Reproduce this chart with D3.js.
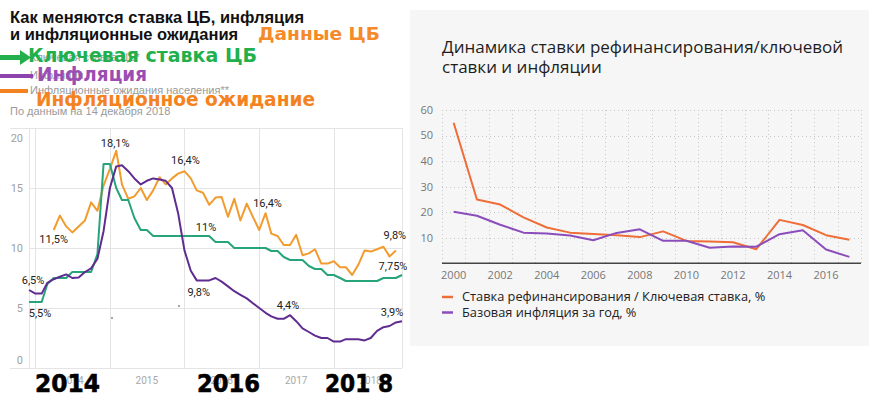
<!DOCTYPE html>
<html>
<head>
<meta charset="utf-8">
<script src="https://cdn.jsdelivr.net/npm/d3@7"></script>
<style>
  body { margin: 0; background: #fff; }
  svg { display: block; }
</style>
</head>
<body>
<script>
// ---- left chart: monthly values, Dec 2013 .. Dec 2018
const months = d3.timeMonth.range(new Date(2013, 11, 1), new Date(2019, 0, 1));
const keyRate = [
  5.5, 5.5, 5.5, 7.0, 7.5, 7.5, 7.5, 8.0, 8.0, 8.0, 8.0, 9.5,
  17, 17, 15, 14, 14, 12.5, 11.5, 11.5, 11, 11, 11, 11,
  11, 11, 11, 11, 11, 11, 10.5, 10.5, 10.5, 10, 10, 10,
  10, 10, 10, 9.75, 9.75, 9.25, 9.0, 9.0, 9.0, 8.5, 8.25, 8.25,
  7.75, 7.75, 7.5, 7.25, 7.25, 7.25, 7.25, 7.25, 7.25, 7.5, 7.5, 7.5,
  7.75,
];
const inflation = [
  6.5, 6.2, 6.2, 7.1, 7.4, 7.6, 7.8, 7.5, 7.55, 8.0, 8.3, 9.1,
  11.4, 15.0, 16.8, 16.9, 16.4, 15.8, 15.3, 15.6, 15.8, 15.7, 15.6, 15.0,
  12.9, 9.8, 8.1, 7.3, 7.3, 7.3, 7.5, 7.2, 6.8, 6.4, 6.1, 5.8,
  5.4, 5.0, 4.6, 4.3, 4.1, 4.1, 4.4, 3.9, 3.3, 3.0, 2.7, 2.5,
  2.5, 2.2, 2.2, 2.4, 2.4, 2.4, 2.3, 2.5, 3.1, 3.4, 3.5, 3.8,
  3.9,
];
const expectations = [
  null, null, null, null, 11.5, 12.7, 11.8, 11.3, 11.8, 12.3, 13.8, 13.1,
  15.2, 16.6, 18.1, 15.3, 14.1, 14.3, 15.0, 14.0, 14.8, 15.9, 15.3, 15.8,
  16.2, 16.4, 15.8, 14.8, 14.6, 13.6, 14.2, 14.25, 12.6, 14.1, 12.3, 13.7,
  12.6, 11.5, 12.9, 11.2, 11.0, 10.25, 10.25, 11.1, 9.4, 9.55, 9.9, 8.7,
  8.7, 8.9, 8.4, 8.4, 7.75, 8.6, 9.8, 9.7, 9.9, 10.1, 9.3, 9.8,
  null,
];
const leftYears = [2014, 2015, 2016, 2017, 2018];
const leftTicks = [0, 5, 10, 15, 20];
// label, series, month index
const leftNotes = [
  ['18,1%', 'exp', 14], ['16,4%', 'exp', 25], ['11,5%', 'exp', 4], ['11%', 'key', 28],
  ['6,5%', 'inf', 0], ['5,5%', 'key', 0], ['9,8%', 'inf', 27], ['16,4%', 'exp', 38],
  ['4,4%', 'inf', 42], ['9,8%', 'exp', 59], ['7,75%', 'key', 60], ['3,9%', 'inf', 60],
];

// ---- right chart: yearly values
const years = [2000, 2001, 2002, 2003, 2004, 2005, 2006, 2007, 2008,
  2009, 2010, 2011, 2012, 2013, 2014, 2015, 2016, 2017];
const refRate = [55, 25, 23, 18, 14, 12, 11.5, 11, 10.25,
  12.5, 8.75, 8.5, 8.25, 5.5, 17, 15, 11, 9.25];
const coreInflation = [20.2, 18.6, 15.1, 12, 11.7, 10.9, 9, 11.9, 13.3,
  8.8, 8.8, 6.1, 6.6, 6.5, 11.4, 12.9, 5.4, 2.5];
const rightTicks = [10, 20, 30, 40, 50, 60];
const rightYearTicks = [2000, 2002, 2004, 2006, 2008, 2010, 2012, 2014, 2016];

const width = 869;
const height = 397;

const colors = {
  key: '#27a47b',
  inf: '#5f2c8f',
  exp: '#f29b2e',
  ref: '#ef6d37',
  core: '#8a4dbb',
};

const svg = d3.select('body').append('svg')
  .attr('width', width)
  .attr('height', height)
  .style('font-family', 'Roboto, sans-serif');

svg.append('rect').attr('width', width).attr('height', height).attr('fill', '#fff');

// ================= left chart =================
const left = { x0: 29, x1: 402, top: 128, bottom: 368, frame: 10 };

const x = d3.scaleTime()
  .domain([months[0], months[months.length - 1]])
  .range([left.x0, left.x1]);
const y = d3.scaleLinear().domain([0, 20]).range([left.bottom, left.top]);

const grid = svg.append('g').attr('stroke', '#e4e4e4').attr('stroke-width', 1);

grid.selectAll('.hgrid')
  .data(leftTicks)
  .join('line')
  .attr('class', 'hgrid')
  .attr('x1', (d) => (d === 0 || d === 20 ? left.frame : left.x0))
  .attr('x2', left.x1)
  .attr('y1', (d) => Math.round(y(d)) + 0.5)
  .attr('y2', (d) => Math.round(y(d)) + 0.5);

const vLines = [months[0]].concat(leftYears.map((yr) => new Date(yr, 0, 1)), [months[months.length - 1]]);
grid.selectAll('.vgrid')
  .data(vLines)
  .join('line')
  .attr('class', 'vgrid')
  .attr('x1', (d) => Math.round(x(d)) + 0.5)
  .attr('x2', (d) => Math.round(x(d)) + 0.5)
  .attr('y1', left.top)
  .attr('y2', left.bottom);

svg.append('g')
  .selectAll('text')
  .data(leftTicks)
  .join('text')
  .attr('x', 23)
  .attr('y', (d) => Math.min(Math.max(y(d), left.top + 10), left.bottom - 8))
  .attr('dy', '0.35em')
  .attr('text-anchor', 'end')
  .attr('font-size', 11)
  .attr('fill', '#a0a0a0')
  .text((d) => d);

svg.append('g')
  .selectAll('text')
  .data(leftYears)
  .join('text')
  .attr('x', (d) => x(new Date(d, 6, 1)))
  .attr('y', 384)
  .attr('text-anchor', 'middle')
  .attr('font-size', 10)
  .attr('fill', '#a8a8a8')
  .text((d) => d);

const seriesData = { key: keyRate, inf: inflation, exp: expectations };

const line = d3.line()
  .defined((d) => d[1] !== null)
  .x((d) => x(d[0]))
  .y((d) => y(d[1]));

['exp', 'key', 'inf'].forEach((name) => {
  svg.append('path')
    .datum(months.map((m, i) => [m, seriesData[name][i]]))
    .attr('fill', 'none')
    .attr('stroke', colors[name])
    .attr('stroke-width', 2)
    .attr('stroke-linejoin', 'round')
    .attr('d', line);
});

// label offsets from the point they describe
const noteOffsets = [
  [-1, -4], [1, -7], [0, 13], [3, -5], [4, -6], [11, 15],
  [2, 16], [2, -6], [-2, -6], [-1, -11], [-9, -5], [-10, -5],
];
svg.append('g')
  .selectAll('text')
  .data(leftNotes)
  .join('text')
  .attr('x', (d, i) => x(months[d[2]]) + noteOffsets[i][0])
  .attr('y', (d, i) => y(seriesData[d[1]][d[2]]) + noteOffsets[i][1])
  .attr('text-anchor', 'middle')
  .attr('font-size', 11)
  .attr('fill', '#222')
  .text((d) => d[0]);

// stray dots left from hidden labels
svg.append('g')
  .selectAll('circle')
  .data([[112, 318], [179, 306]])
  .join('circle')
  .attr('cx', (d) => d[0])
  .attr('cy', (d) => d[1])
  .attr('r', 0.8)
  .attr('fill', '#333');

// titles and legend of the left chart
const head = svg.append('g').attr('font-family', "'Liberation Sans', Arial, sans-serif");
head.append('text').attr('x', 10).attr('y', 23)
  .attr('font-size', 16.5).attr('font-weight', 700).attr('fill', '#111')
  .text('Как меняются ставка ЦБ, инфляция');
head.append('text').attr('x', 10).attr('y', 40)
  .attr('font-size', 16.5).attr('font-weight', 700).attr('fill', '#111')
  .text('и инфляционные ожидания');

const greyNotes = [
  ['Ключевая ставка ЦБ*', 61], ['Инфляция', 79], ['Инфляционные ожидания населения**', 94],
];
head.selectAll('.grey')
  .data(greyNotes)
  .join('text')
  .attr('class', 'grey')
  .attr('x', 30)
  .attr('y', (d) => d[1])
  .attr('font-size', 11)
  .attr('fill', '#9a9a9a')
  .text((d) => d[0]);
head.append('text').attr('x', 10).attr('y', 115)
  .attr('font-size', 11).attr('fill', '#9a9a9a')
  .text('По данным на 14 декабря 2018');

// overlaid marker strokes
svg.append('rect').attr('x', 0).attr('y', 55).attr('width', 22).attr('height', 5).attr('fill', '#22b04c');
svg.append('path').attr('d', 'M20,50L31,57.5L20,65Z').attr('fill', '#22b04c');
svg.append('rect').attr('x', 0).attr('y', 74).attr('width', 33).attr('height', 4).attr('fill', '#8e44ad');
svg.append('rect').attr('x', 0).attr('y', 89).attr('width', 28).attr('height', 4).attr('fill', '#f58220');

const big = svg.append('g')
  .attr('font-family', "'DejaVu Sans', sans-serif")
  .attr('font-weight', 700)
  .attr('lengthAdjust', 'spacingAndGlyphs');
const stamps = [
  ['Данные ЦБ', 258, 40, 17.5, 122, '#f48a2a'],
  ['Ключевая ставка ЦБ', 28, 62, 19, 229, '#22b04c'],
  ['Инфляция', 37, 81, 19, 110, '#9b4db3'],
  ['Инфляционное ожидание', 36, 106, 19, 279, '#f58220'],
];
big.selectAll('.stamp')
  .data(stamps)
  .join('text')
  .attr('class', 'stamp')
  .attr('x', (d) => d[1])
  .attr('y', (d) => d[2])
  .attr('font-size', (d) => d[3])
  .attr('textLength', (d) => d[4])
  .attr('lengthAdjust', 'spacingAndGlyphs')
  .attr('fill', (d) => d[5])
  .text((d) => d[0]);

big.selectAll('.year')
  .data([['2014', 35, 65], ['2016', 197, 63], ['201 8', 325, 68]])
  .join('text')
  .attr('class', 'year')
  .attr('x', (d) => d[1])
  .attr('y', 392)
  .attr('font-size', 24)
  .attr('textLength', (d) => d[2])
  .attr('lengthAdjust', 'spacingAndGlyphs')
  .attr('fill', '#000')
  .attr('stroke', '#000')
  .attr('stroke-width', 0.6)
  .text((d) => d[0]);

// ================= right chart =================
const panel = svg.append('g').style('font-family', "'Open Sans', sans-serif");
panel.append('rect').attr('x', 410).attr('y', 10).attr('width', 459).attr('height', 336).attr('fill', '#f6f6f6');

panel.append('text').attr('x', 442).attr('y', 53)
  .attr('font-size', 17).attr('fill', '#1e1e1e')
  .text('Динамика ставки рефинансирования/ключевой');
panel.append('text').attr('x', 442).attr('y', 73)
  .attr('font-size', 17).attr('fill', '#1e1e1e')
  .text('ставки и инфляции');

const rx = d3.scaleLinear().domain([1999.5, 2017.5]).range([442, 861]);
const ry = d3.scaleLinear().domain([0, 60]).range([263.3, 110]);

const dots = panel.append('g')
  .attr('stroke', '#c9c9c9')
  .attr('stroke-width', 1)
  .attr('stroke-dasharray', '1,3');
dots.selectAll('.rv')
  .data(d3.range(1999.5, 2018, 1))
  .join('line')
  .attr('class', 'rv')
  .attr('x1', (d) => Math.round(rx(d)) + 0.5)
  .attr('x2', (d) => Math.round(rx(d)) + 0.5)
  .attr('y1', ry(60))
  .attr('y2', ry(0));
dots.selectAll('.rh')
  .data(rightTicks)
  .join('line')
  .attr('class', 'rh')
  .attr('x1', rx(1999.5))
  .attr('x2', rx(2017.5))
  .attr('y1', (d) => Math.round(ry(d)) + 0.5)
  .attr('y2', (d) => Math.round(ry(d)) + 0.5);

panel.append('line')
  .attr('x1', rx(1999.5)).attr('x2', rx(2017.5))
  .attr('y1', ry(0)).attr('y2', ry(0))
  .attr('stroke', '#444').attr('stroke-width', 1.5);

panel.append('g')
  .selectAll('text')
  .data(rightTicks)
  .join('text')
  .attr('x', 433)
  .attr('y', (d) => ry(d))
  .attr('dy', '0.35em')
  .attr('text-anchor', 'end')
  .attr('font-size', 11)
  .attr('fill', '#777')
  .text((d) => d);

panel.append('g')
  .selectAll('text')
  .data(rightYearTicks)
  .join('text')
  .attr('x', (d) => rx(d))
  .attr('y', 279)
  .attr('text-anchor', 'middle')
  .attr('font-size', 11)
  .attr('fill', '#777')
  .text((d) => d);

const rline = d3.line().x((d) => rx(d[0])).y((d) => ry(d[1]));
[['ref', refRate], ['core', coreInflation]].forEach(([name, values]) => {
  panel.append('path')
    .datum(years.map((yr, i) => [yr, values[i]]))
    .attr('fill', 'none')
    .attr('stroke', colors[name])
    .attr('stroke-width', 2)
    .attr('stroke-linejoin', 'round')
    .attr('d', rline);
});

const legend = panel.append('g')
  .selectAll('g')
  .data([['ref', 'Ставка рефинансирования / Ключевая ставка, %'], ['core', 'Базовая инфляция за год, %']])
  .join('g')
  .attr('transform', (d, i) => `translate(442,${297 + i * 15.5})`);
legend.append('line')
  .attr('x1', 0).attr('x2', 11)
  .attr('stroke', (d) => colors[d[0]])
  .attr('stroke-width', 2.5);
legend.append('text')
  .attr('x', 20)
  .attr('dy', '0.35em')
  .attr('font-size', 12.8)
  .attr('fill', '#222')
  .text((d) => d[1]);
</script>
</body>
</html>
